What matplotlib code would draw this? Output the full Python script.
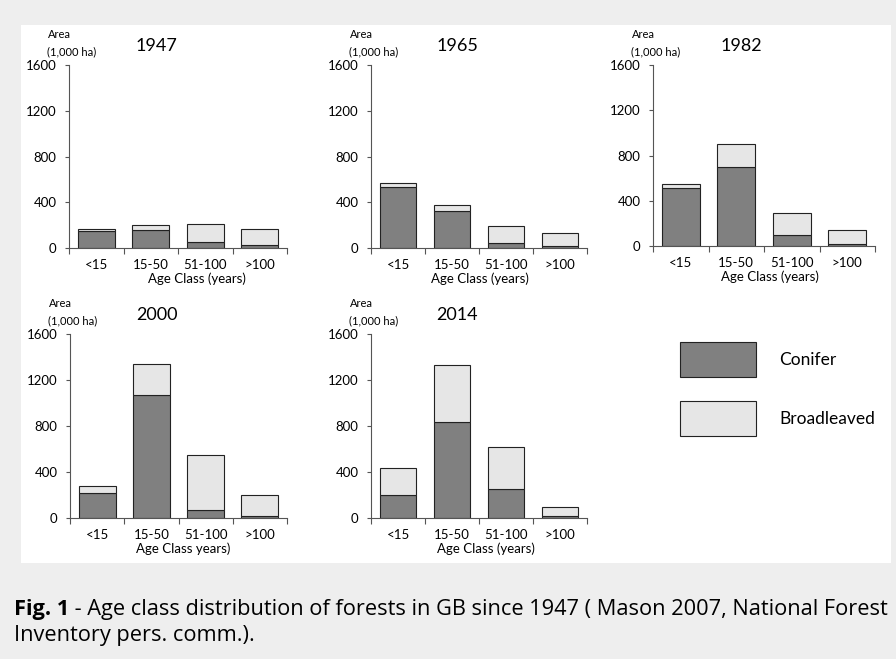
import matplotlib.pyplot as plt
from matplotlib.patches import Patch, Rectangle

plt.rcParams['font.family'] = ['Lato', 'DejaVu Sans']

age_classes = ['<15', '15-50', '51-100', '>100']
years = ['1947', '1965', '1982', '2000', '2014']

# area in 1,000 ha
conifer_1947 = [148, 157, 55, 26]
broadleaved_1947 = [15, 40, 153, 137]
conifer_1965 = [530, 322, 47, 17]
broadleaved_1965 = [36, 54, 148, 115]
conifer_1982 = [514, 696, 93, 20]
broadleaved_1982 = [36, 206, 195, 124]
conifer_2000 = [220, 1066, 72, 16]
broadleaved_2000 = [57, 269, 478, 180]
conifer_2014 = [203, 832, 252, 15]
broadleaved_2014 = [232, 498, 368, 81]

conifer = [conifer_1947, conifer_1965, conifer_1982, conifer_2000, conifer_2014]
broadleaved = [broadleaved_1947, broadleaved_1965, broadleaved_1982,
               broadleaved_2000, broadleaved_2014]
xlabels = ['Age Class (years)', 'Age Class (years)', 'Age Class (years)',
           'Age Class years)', 'Age Class (years)']

W, H = 896, 659
fig = plt.figure(figsize=(W / 100, H / 100), dpi=100)
fig.patch.set_facecolor('#eeeeee')
# white panel behind the charts
fig.add_artist(Rectangle((21 / W, 1 - 563 / H), 870 / W, 538 / H,
                         transform=fig.transFigure, facecolor='white',
                         edgecolor='none', zorder=0))

# left, right, y of zero, y of 1600 (pixels)
boxes = [(69, 287, 248, 65), (371, 587, 248, 65), (653, 875, 246, 65),
         (70, 287, 518, 334), (371, 587, 518, 334)]
label_x = [0.587, 0.505, 0.527, 0.52, 0.532]

c_dark = '#808080'
c_light = '#e6e6e6'
edge = '#222222'

for i, yr in enumerate(years):
    l, r, y0, y1 = boxes[i]
    ax = fig.add_axes([l / W, 1 - y0 / H, (r - l) / W, (y0 - y1) / H])
    ax.set_facecolor('none')
    x = range(len(age_classes))
    ax.bar(x, conifer[i], width=0.68, color=c_dark, edgecolor=edge, linewidth=0.8)
    ax.bar(x, broadleaved[i], width=0.68, bottom=conifer[i], color=c_light,
           edgecolor=edge, linewidth=0.8)
    ax.set_xlim(-0.5, 3.5)
    ax.set_ylim(0, 1600)
    ax.set_yticks([0, 400, 800, 1200, 1600])
    ax.set_xticks([-0.5, 0.5, 1.5, 2.5, 3.5])
    ax.set_xticklabels([])
    ax.set_xticks(range(4), minor=True)
    ax.set_xticklabels(age_classes, minor=True)
    ax.tick_params(axis='x', which='minor', length=0, pad=8, labelsize=9.5)
    ax.tick_params(axis='x', which='major', length=4, width=0.8, color='#555555')
    ax.tick_params(axis='y', length=3, width=0.8, color='#555555', labelsize=9.5, pad=6)
    for s in ['top', 'right']:
        ax.spines[s].set_visible(False)
    for s in ['left', 'bottom']:
        ax.spines[s].set_color('#555555')
        ax.spines[s].set_linewidth(0.8)
    ax.set_xlabel(xlabels[i], fontsize=9.5)
    ax.xaxis.set_label_coords(label_x[i], -0.135)
    ax.set_title(yr, fontsize=13, x=0.4, y=1.03)
    fig.text((l - 21) / W, 1 - (y1 - 30) / H, 'Area', fontsize=8, va='center')
    fig.text((l - 22) / W, 1 - (y1 - 13) / H, '(1,000 ha)', fontsize=8, va='center')

handles = [Patch(facecolor=c_dark, edgecolor=edge, linewidth=0.8, label='Conifer'),
           Patch(facecolor=c_light, edgecolor=edge, linewidth=0.8, label='Broadleaved')]
fig.legend(handles=handles, loc='upper left', bbox_to_anchor=(680 / W, 1 - 342 / H),
           frameon=False, fontsize=12.5, borderpad=0, borderaxespad=0,
           handlelength=4.4, handleheight=2.7, handletextpad=1.3, labelspacing=1.4)

# caption
cap_font = ['Open Sans', 'DejaVu Sans']
cap_size = 15.7
cap1 = fig.text(14 / W, 1 - 610 / H, 'Fig. 1', fontsize=cap_size, fontweight='bold',
                va='center', family=cap_font)
fig.canvas.draw()
bb = cap1.get_window_extent()
fig.text(bb.x1 / W, 1 - 610 / H,
         ' - Age class distribution of forests in GB since 1947 ( Mason 2007, National Forest',
         fontsize=cap_size, va='center', family=cap_font)
fig.text(14 / W, 1 - 636 / H, 'Inventory pers. comm.).', fontsize=cap_size, va='center',
         family=cap_font)

fig.savefig('out.png', dpi=100, facecolor=fig.get_facecolor())
